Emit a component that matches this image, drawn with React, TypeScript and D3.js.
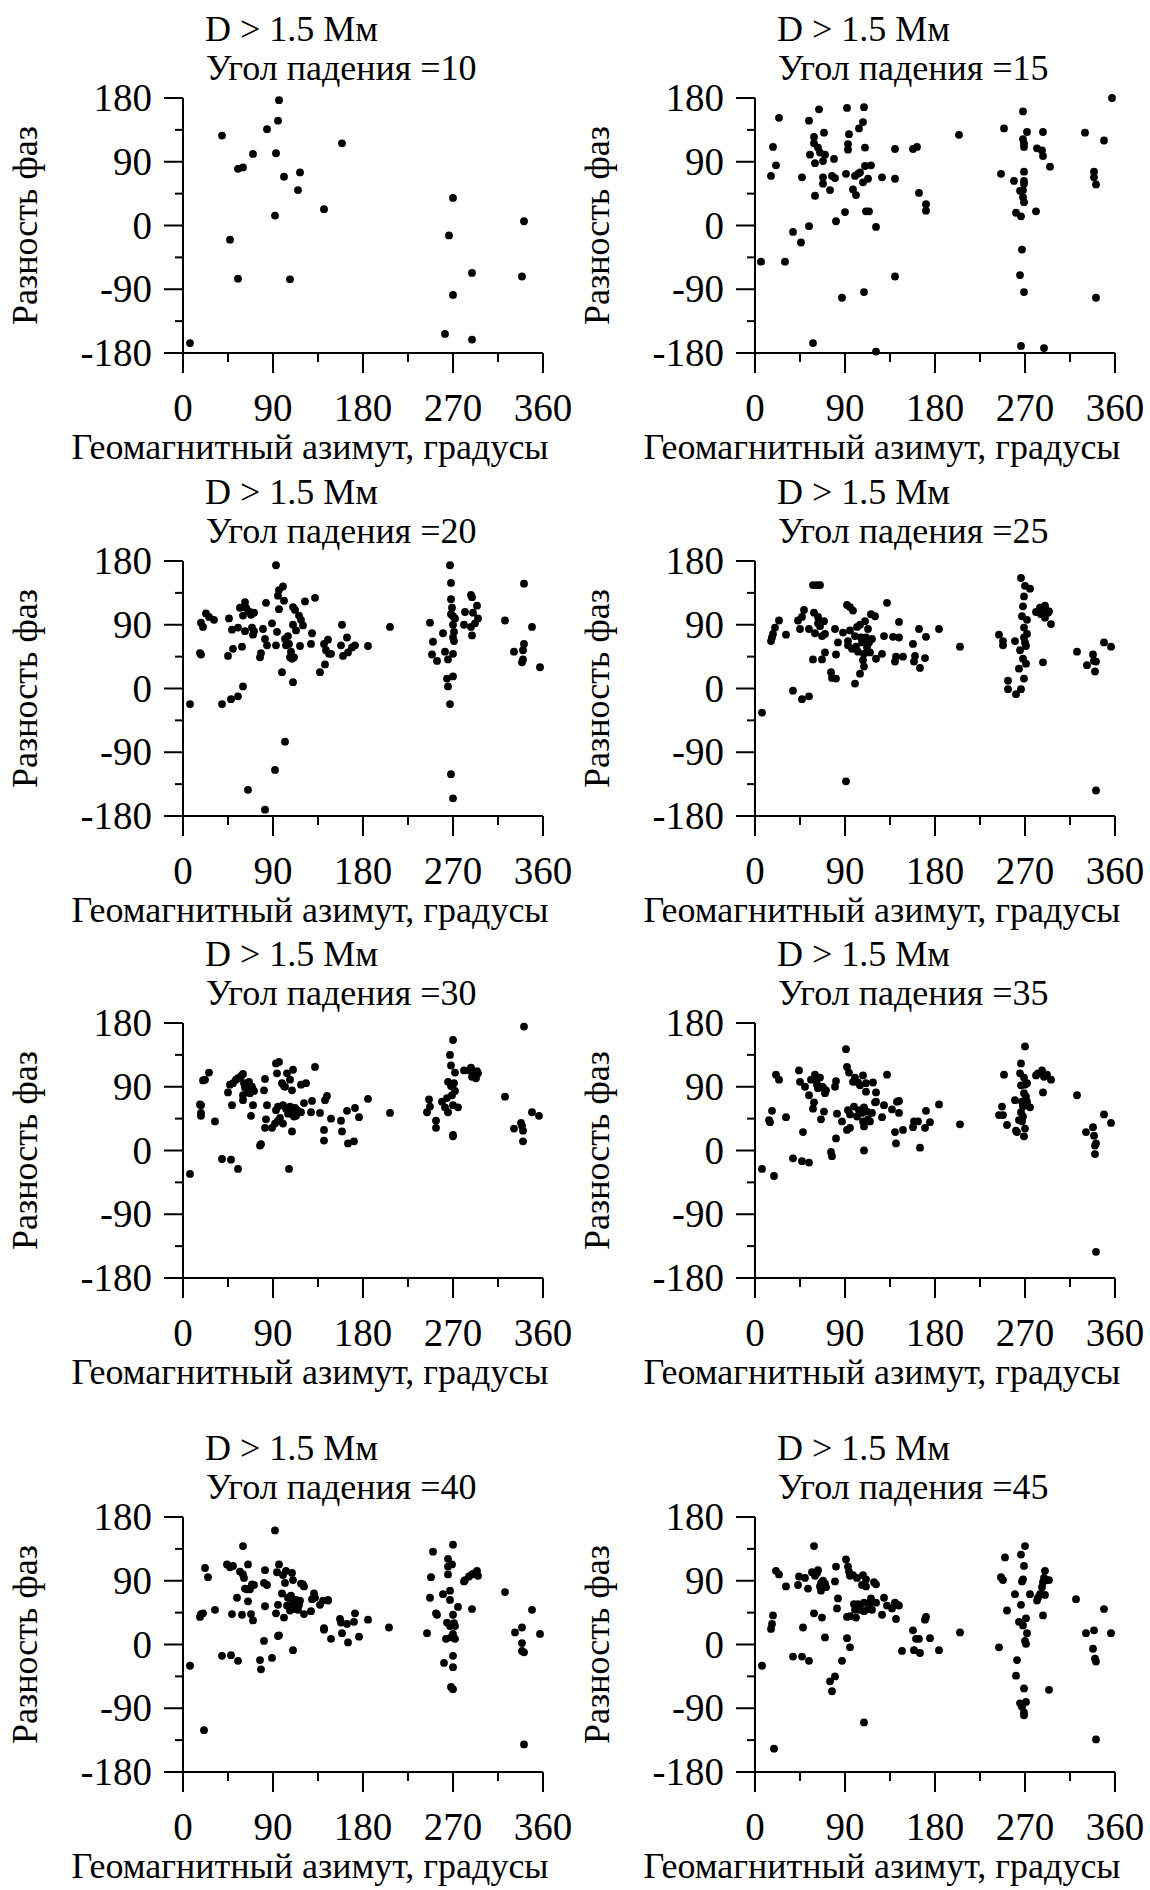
import React from 'react';
import * as d3 from 'd3';

const xTicks = [0, 90, 180, 270, 360];
const xMinor = [45, 135, 225, 315];
const yTicks = [180, 90, 0, -90, -180];
const yMinor = [135, 45, -45, -135];
const angles = [10, 15, 20, 25, 30, 35, 40, 45];
const titleLine1 = 'D > 1.5 Мм';
const titlePrefix = 'Угол падения =';
const xLabel = 'Геомагнитный азимут, градусы';
const yLabel = 'Разность фаз';

type Pt = [number, number];

const a10: Pt[] = [[7,-166],[39,127],[47,-20],[55,80],[60,82],[55,-75],[70,101],[84,136],[96,177],[95,148],[93,102],[101,69],[117,75],[115,50],[92,14],[107,-76],[141,23],[159,116],[270,39],[266,-14],[262,-153],[270,-98],[289,-67],[289,-161],[341,6],[339,-72]];

const a15: Pt[] = [[6,-51],[16,70],[18,111],[21,85],[24,152],[30,-51],[38,-9],[46,-24],[47,68],[54,-1],[54,148],[55,100],[59,125],[59,116],[60,42],[60,88],[63,110],[64,164],[65,103],[68,91],[68,68],[68,59],[69,131],[70,100],[75,50],[58,-166],[77,70],[79,94],[80,67],[81,6],[87,-102],[90,19],[91,73],[92,166],[93,115],[94,129],[93,107],[98,51],[100,70],[101,43],[103,73],[104,137],[105,75],[108,146],[109,167],[108,61],[109,-94],[110,110],[110,84],[111,20],[113,66],[114,20],[116,85],[121,-2],[121,-178],[127,68],[140,108],[140,66],[140,-72],[158,108],[162,111],[164,46],[171,30],[171,21],[204,128],[249,137],[246,73],[259,63],[261,18],[266,13],[265,49],[268,161],[268,122],[269,116],[269,111],[269,76],[269,63],[269,59],[268,50],[268,40],[269,33],[267,-34],[265,-70],[269,-94],[266,-170],[272,132],[281,20],[282,109],[287,106],[288,132],[288,98],[295,83],[289,-173],[330,131],[339,76],[339,68],[341,58],[341,-102],[349,120],[357,180]];

const a20: Pt[] = [[7,-22],[17,50],[18,48],[18,93],[20,87],[23,106],[26,101],[31,97],[39,-22],[45,46],[46,99],[48,-15],[49,83],[50,56],[55,-11],[55,86],[57,114],[59,59],[60,3],[60,103],[62,122],[63,114],[62,81],[65,-143],[66,109],[68,104],[69,86],[70,76],[71,81],[71,107],[77,44],[78,50],[80,84],[82,-171],[83,121],[82,70],[84,61],[89,92],[92,-115],[93,174],[93,61],[94,80],[95,131],[96,139],[96,112],[99,23],[100,144],[101,124],[102,70],[102,-75],[103,61],[105,74],[106,63],[107,44],[108,52],[109,42],[110,115],[110,9],[110,90],[111,44],[112,111],[113,82],[116,103],[117,60],[118,97],[120,89],[122,123],[128,63],[129,78],[132,128],[137,23],[141,63],[142,34],[143,54],[145,69],[146,49],[148,49],[158,61],[159,90],[160,46],[164,72],[165,51],[169,58],[172,61],[185,60],[207,87],[247,93],[250,66],[249,48],[254,39],[260,78],[262,52],[264,14],[265,41],[265,3],[267,174],[267,-22],[268,-121],[270,-155],[268,149],[268,126],[269,114],[270,102],[270,90],[271,80],[270,72],[271,67],[268,105],[270,49],[270,17],[272,99],[281,90],[282,108],[288,132],[289,129],[288,87],[289,75],[290,107],[292,92],[294,117],[295,99],[322,96],[331,52],[340,41],[339,37],[340,54],[341,63],[341,148],[349,87],[357,30]];

const a25: Pt[] = [[7,-34],[16,67],[17,72],[18,77],[20,86],[24,96],[31,76],[38,-3],[43,96],[45,84],[47,101],[47,-15],[49,111],[54,-11],[54,84],[58,41],[58,146],[59,107],[60,78],[62,146],[63,101],[65,146],[63,92],[65,88],[67,41],[67,74],[69,95],[70,77],[70,51],[76,23],[77,15],[81,14],[80,84],[81,48],[83,65],[88,79],[91,-131],[92,118],[93,61],[93,67],[95,115],[95,82],[97,56],[98,110],[100,7],[100,74],[101,59],[102,87],[103,52],[105,90],[105,21],[106,72],[107,65],[108,40],[109,31],[109,49],[110,95],[111,72],[112,58],[113,84],[114,65],[115,51],[116,105],[117,70],[120,102],[121,42],[127,49],[129,74],[132,121],[138,73],[140,38],[141,45],[144,94],[144,72],[148,45],[158,63],[159,38],[160,46],[164,84],[165,29],[170,43],[171,73],[184,84],[205,59],[244,76],[248,61],[248,67],[253,11],[253,-1],[261,-8],[260,67],[264,28],[265,54],[266,156],[266,-1],[267,102],[268,116],[268,42],[269,130],[269,86],[269,72],[269,14],[270,145],[270,65],[271,35],[271,60],[272,77],[272,97],[275,141],[281,108],[285,114],[286,105],[288,37],[290,117],[290,100],[291,111],[293,107],[294,109],[296,91],[322,52],[332,33],[338,48],[339,39],[340,24],[341,38],[341,-144],[349,65],[356,59]];

const a30: Pt[] = [[7,-33],[17,65],[18,64],[18,53],[18,49],[20,99],[22,100],[26,110],[32,41],[39,-12],[45,82],[47,93],[48,-13],[49,64],[50,95],[53,100],[55,-26],[55,102],[58,105],[60,108],[60,78],[60,71],[61,95],[62,89],[64,92],[65,85],[66,97],[67,81],[68,49],[69,90],[70,64],[71,84],[77,7],[78,9],[81,85],[82,101],[82,32],[83,44],[84,64],[89,32],[92,38],[93,57],[93,123],[94,109],[95,42],[95,62],[96,125],[97,46],[99,95],[100,38],[100,64],[101,91],[102,90],[103,59],[104,109],[105,52],[106,-26],[107,100],[107,62],[108,52],[109,85],[109,27],[110,114],[110,54],[111,48],[112,60],[113,49],[114,57],[116,54],[118,93],[118,54],[121,67],[123,95],[128,54],[129,70],[132,118],[137,53],[141,29],[141,14],[142,71],[144,77],[148,45],[158,42],[159,27],[164,56],[165,10],[171,13],[172,60],[176,47],[185,73],[207,53],[244,54],[246,72],[247,62],[253,42],[253,32],[259,69],[262,61],[264,74],[265,97],[265,54],[267,135],[268,120],[268,91],[269,78],[270,64],[270,156],[270,22],[270,20],[271,95],[272,110],[272,84],[275,61],[281,113],[286,113],[288,117],[289,104],[290,109],[293,102],[294,112],[295,109],[322,76],[331,31],[338,39],[339,35],[340,28],[340,13],[341,175],[349,54],[356,49]];

const a35: Pt[] = [[7,-26],[14,43],[15,40],[17,56],[19,-36],[21,107],[24,100],[31,47],[38,-11],[44,113],[45,97],[47,-15],[48,26],[50,90],[54,-17],[54,78],[56,100],[58,59],[59,68],[60,107],[62,101],[62,93],[63,88],[65,103],[66,44],[67,90],[68,89],[69,55],[70,81],[71,85],[76,-2],[77,-8],[80,90],[81,98],[81,17],[82,52],[87,41],[91,143],[92,118],[93,57],[92,29],[94,110],[95,32],[95,51],[98,97],[99,62],[100,103],[102,48],[103,96],[104,57],[105,92],[107,53],[108,106],[108,41],[109,34],[109,0],[109,61],[111,95],[111,83],[112,55],[113,44],[115,41],[117,53],[118,96],[120,68],[121,82],[121,69],[127,47],[129,64],[132,107],[137,58],[140,26],[141,10],[142,69],[144,53],[144,70],[148,29],[158,33],[159,41],[163,41],[165,4],[170,32],[171,56],[175,40],[184,65],[205,37],[244,50],[247,62],[248,50],[249,107],[252,36],[260,71],[261,28],[262,26],[264,43],[265,109],[266,123],[266,92],[266,54],[267,41],[267,69],[268,48],[268,62],[269,81],[269,103],[269,20],[270,147],[270,31],[270,93],[271,76],[272,69],[272,95],[275,61],[281,106],[283,109],[287,113],[288,82],[289,104],[292,107],[296,100],[322,78],[331,26],[338,33],[339,21],[340,7],[341,10],[340,-5],[341,-143],[349,51],[356,39]];

const a40: Pt[] = [[7,-30],[17,39],[18,43],[20,44],[21,-121],[22,108],[25,95],[32,49],[39,-16],[44,113],[47,109],[49,43],[50,111],[48,-15],[54,66],[55,-23],[57,103],[59,42],[60,139],[60,99],[61,94],[62,79],[64,78],[65,113],[65,61],[67,78],[68,43],[69,85],[70,34],[71,84],[77,-22],[78,-35],[81,5],[81,87],[82,105],[82,54],[84,84],[89,-19],[92,161],[93,44],[94,102],[95,12],[96,113],[96,13],[95,56],[99,72],[100,98],[101,38],[102,87],[103,104],[104,55],[105,66],[107,48],[108,69],[109,57],[109,101],[110,-8],[110,91],[111,59],[112,50],[113,63],[115,49],[116,56],[117,62],[118,86],[120,85],[121,43],[121,82],[128,47],[129,64],[131,72],[132,66],[137,56],[140,62],[141,23],[141,21],[145,63],[145,62],[148,8],[157,36],[158,31],[159,16],[164,29],[165,3],[172,44],[171,32],[176,11],[185,35],[206,24],[244,16],[247,66],[248,95],[250,131],[253,44],[254,42],[260,71],[261,-26],[263,8],[264,31],[265,121],[265,110],[265,99],[267,63],[267,76],[267,26],[268,10],[268,-60],[269,113],[270,-16],[270,-32],[270,-63],[270,141],[270,42],[271,30],[272,26],[270,15],[272,8],[275,53],[281,89],[282,91],[286,96],[289,50],[289,99],[291,100],[294,104],[295,97],[322,74],[332,17],[339,24],[339,2],[339,-9],[341,-11],[341,-141],[349,49],[357,15]];

const a45: Pt[] = [[7,-30],[16,22],[17,29],[18,41],[19,-147],[21,104],[24,99],[31,82],[38,-17],[43,84],[44,96],[47,-17],[48,24],[50,94],[53,79],[54,-23],[57,102],[59,44],[59,139],[60,97],[62,101],[63,105],[65,82],[66,76],[66,87],[67,38],[68,90],[70,86],[70,10],[71,81],[75,-52],[77,-66],[80,-45],[80,89],[81,110],[82,51],[83,65],[87,-23],[91,120],[92,39],[92,9],[93,110],[94,103],[95,97],[95,-4],[95,40],[98,98],[99,57],[100,49],[101,38],[102,94],[103,57],[104,49],[105,55],[107,84],[108,98],[109,47],[109,-110],[109,59],[111,92],[111,82],[113,50],[115,59],[116,65],[117,49],[119,88],[121,59],[121,85],[127,42],[129,66],[132,55],[137,51],[140,59],[141,36],[143,56],[144,55],[147,-9],[158,20],[159,-8],[161,8],[164,8],[165,-12],[170,35],[171,39],[175,9],[184,-8],[205,17],[244,-4],[246,95],[248,91],[250,123],[252,48],[260,71],[262,-22],[261,-44],[264,32],[265,-83],[266,127],[266,56],[267,89],[267,-88],[268,92],[268,27],[269,111],[269,-62],[269,-96],[269,-100],[270,139],[270,5],[271,37],[271,1],[271,-81],[272,16],[275,71],[282,62],[283,66],[285,71],[287,81],[288,88],[288,41],[289,94],[290,70],[290,104],[292,91],[294,-64],[294,91],[321,64],[331,16],[338,-6],[339,20],[340,-20],[341,-24],[341,-134],[349,50],[356,16]];

const series: Pt[][] = [a10, a15, a20, a25, a30, a35, a40, a45];

const FONT = "'Liberation Serif', 'Times New Roman', serif";
const colX = [183, 755];
const rowTop = [98, 561, 1023, 1517];
const W = 360;
const H = 255;

function Panel({ data, angle, x0, top }: { data: Pt[]; angle: number; x0: number; top: number }) {
  const x = d3.scaleLinear().domain([0, 360]).range([x0, x0 + W]);
  const y = d3.scaleLinear().domain([-180, 180]).range([top + H, top]);
  const bottom = y(-180);
  return (
    <g>
      <text x={x0 + 22} y={top - 57} fontSize={36} fontFamily={FONT}>{titleLine1}</text>
      <text x={x0 + 23} y={top - 18} fontSize={36} fontFamily={FONT}>{titlePrefix + angle}</text>
      <line x1={x0} x2={x0} y1={top} y2={bottom} stroke="#000" strokeWidth={2} />
      <line x1={x0} x2={x0 + W} y1={bottom} y2={bottom} stroke="#000" strokeWidth={2} />
      {yTicks.map((t) => (
        <g key={'y' + t}>
          <line x1={x0 - 19} x2={x0} y1={y(t)} y2={y(t)} stroke="#000" strokeWidth={2} />
          <text x={x0 - 31} y={y(t) + 13} fontSize={39} textAnchor="end" fontFamily={FONT}>{t}</text>
        </g>
      ))}
      {yMinor.map((t) => (
        <line key={'ym' + t} x1={x0 - 8} x2={x0} y1={y(t)} y2={y(t)} stroke="#000" strokeWidth={2} />
      ))}
      {xTicks.map((t) => (
        <g key={'x' + t}>
          <line x1={x(t)} x2={x(t)} y1={bottom} y2={bottom + 20} stroke="#000" strokeWidth={2} />
          <text x={x(t)} y={bottom + 68} fontSize={39} textAnchor="middle" fontFamily={FONT}>{t}</text>
        </g>
      ))}
      {xMinor.map((t) => (
        <line key={'xm' + t} x1={x(t)} x2={x(t)} y1={bottom} y2={bottom + 9} stroke="#000" strokeWidth={2} />
      ))}
      <text x={x0 + 127} y={bottom + 106} fontSize={36} textAnchor="middle" fontFamily={FONT}>{xLabel}</text>
      <text
        transform={`translate(${x0 - 146},${top + H / 2}) rotate(-90)`}
        fontSize={36}
        textAnchor="middle"
        fontFamily={FONT}
      >
        {yLabel}
      </text>
      {data.map((d, i) => (
        <circle key={i} cx={x(d[0])} cy={y(d[1])} r={3.9} fill="#000" />
      ))}
    </g>
  );
}

export default function App() {
  return (
    <div style={{ position: 'absolute', left: 0, top: 0 }}>
      <svg width={1150} height={1890} viewBox="0 0 1150 1890" style={{ display: 'block', background: '#fff' }}>
        <rect x={0} y={0} width={1150} height={1890} fill="#fff" />
        {series.map((s, i) => (
          <Panel key={i} data={s} angle={angles[i]} x0={colX[i % 2]} top={rowTop[Math.floor(i / 2)]} />
        ))}
      </svg>
    </div>
  );
}
